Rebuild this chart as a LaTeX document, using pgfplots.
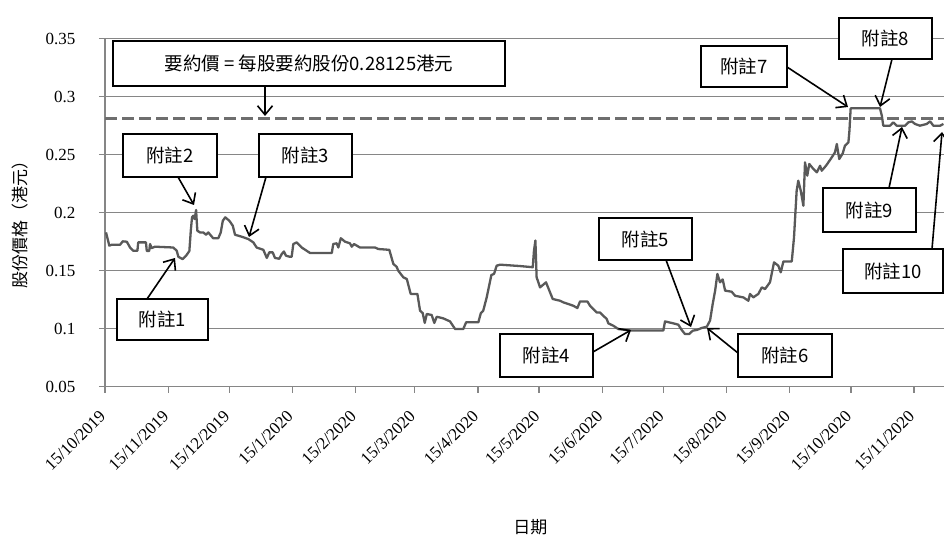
\documentclass[border=0pt]{standalone}
\usepackage{fontspec}
\setmainfont{Liberation Serif}
\newfontfamily\cjk{Noto Sans CJK TC}
\usepackage{pgfplots}
\pgfplotsset{compat=1.18}
\usetikzlibrary{arrows.meta}
\definecolor{priceline}{HTML}{595959}
\definecolor{gridgray}{HTML}{868686}
\definecolor{dashgray}{HTML}{6E6E6E}

\begin{document}
\begin{tikzpicture}
\path[use as bounding box] (0,0) rectangle (944pt,536pt);
\begin{axis}[
    at={(105pt,149.3pt)}, anchor=south west,
    scale only axis, width=839.6pt, height=348pt,
    xmin=0, xmax=412, ymin=0.05, ymax=0.35,
    axis x line*=bottom, axis y line*=left,
    axis line style={gridgray, line width=1.5pt, -},
    tick align=outside, major tick length=6pt,
    tick style={gridgray, line width=1.3pt},
    ymajorgrids, major grid style={gridgray, line width=1.3pt},
    ytick={0.05,0.1,0.15,0.2,0.25,0.3,0.35},
    yticklabels={0.05,0.1,0.15,0.2,0.25,0.3,0.35},
    xtick={0,31,61,92,123,152,183,213,244,274,305,336,366,397},
    xticklabels={15/10/2019,15/11/2019,15/12/2019,15/1/2020,15/2/2020,15/3/2020,15/4/2020,15/5/2020,15/6/2020,15/7/2020,15/8/2020,15/9/2020,15/10/2020,15/11/2020},
    ticklabel style={font=\fontsize{17}{20}\selectfont, text=black},
    xticklabel style={yshift=-18pt, rotate=45, anchor=east},
    yticklabel style={xshift=-20pt},
    xlabel={\cjk 日期},
    ylabel={\cjk 股份價格（港元）},
    label style={font=\cjk\fontsize{17}{20}\selectfont},
    xlabel style={at={(axis description cs:0.5066,-0.405)}, anchor=center},
    ylabel style={at={(axis description cs:-0.1012,0.479)}, anchor=center},
    clip=false,
]
% strike price line
\addplot[dashgray, line width=3pt, dash pattern=on 12pt off 5pt] coordinates {(0,0.28125) (412,0.28125)};
% share price
\addplot[priceline, line width=2.3pt, line join=round] coordinates {
(0.5,0.183) (2.1,0.1716) (3.3,0.1724) (7.4,0.1724) (8.7,0.1753) (10.7,0.175)
(12.3,0.170) (13.9,0.1672) (15.9,0.1672) (16.3,0.1744) (20.1,0.1744) (20.5,0.167)
(21.7,0.167) (22.1,0.173) (22.9,0.1695) (24.5,0.1707) (33.5,0.170) (35.2,0.1672)
(36.0,0.162) (38.1,0.160) (39.8,0.1629) (41.4,0.167) (42.1,0.1845) (42.7,0.196)
(43.3,0.1974) (44.0,0.1945) (44.7,0.2023) (45.3,0.1845) (46.6,0.183) (48.2,0.183)
(49.6,0.181) (50.7,0.183) (52.0,0.1802) (53.1,0.178) (55.6,0.178) (56.8,0.183)
(57.8,0.193) (59.0,0.196) (61.0,0.1931) (62.7,0.1888) (63.8,0.181) (67.1,0.1793)
(70.3,0.1773) (72.8,0.1744) (74.4,0.170) (77.7,0.168) (79.4,0.161) (80.6,0.1658)
(82.3,0.1658) (83.4,0.161) (85.5,0.1603) (86.7,0.1643) (87.8,0.1666) (88.8,0.1629)
(90.8,0.162) (91.6,0.162) (92.4,0.173) (94.1,0.1744) (96.5,0.170) (100.6,0.1653)
(111.3,0.1653) (112.0,0.173) (113.7,0.1736) (114.5,0.170) (115.7,0.178) (117.8,0.175)
(120.2,0.1736) (121.1,0.1707) (122.2,0.173) (125.1,0.170) (132.5,0.170) (134.1,0.1687)
(139.5,0.168) (141.5,0.1558) (143.1,0.1534) (143.9,0.150) (146.4,0.1443) (148.1,0.1428)
(150.0,0.130) (153.3,0.130) (154.6,0.1155) (155.9,0.1135) (156.9,0.105) (157.9,0.1127)
(160.3,0.1118) (161.6,0.105) (162.8,0.1103) (166.0,0.1089) (169.3,0.1063) (171.8,0.0997)
(175.8,0.0997) (177.2,0.1055) (183.2,0.1055) (184.4,0.1133) (185.6,0.1155) (187.3,0.127)
(189.6,0.1463) (190.9,0.1472) (192.2,0.1543) (193.8,0.1552) (203.7,0.154) (209.9,0.153)
(210.5,0.1672) (211.2,0.176) (211.8,0.1443) (213.5,0.1356) (216.4,0.140) (219.7,0.1256)
(223.3,0.1241) (224.9,0.1227) (229.8,0.1198) (231.8,0.1178) (233.1,0.1235) (236.7,0.1235)
(238.0,0.1198) (241.3,0.114) (242.9,0.114) (246.2,0.1083) (247.0,0.1046) (249.4,0.1026)
(251.9,0.0997) (257.6,0.0985) (274.0,0.0985) (274.8,0.1063) (278.9,0.1046) (281.3,0.1035)
(283.0,0.0989) (284.6,0.0954) (286.7,0.0954) (288.4,0.0983) (290.4,0.0989) (292.8,0.1006)
(295.3,0.1017) (296.9,0.107) (298.2,0.1213) (299.4,0.1328) (300.5,0.1472) (301.8,0.140)
(303.1,0.1425) (304.3,0.1328) (307.5,0.1319) (309.2,0.1284) (313.2,0.127) (315.7,0.1241)
(316.5,0.130) (318.1,0.127) (320.6,0.130) (322.3,0.1356) (323.9,0.1342) (326.3,0.140)
(328.3,0.1572) (330.4,0.1543) (331.6,0.1486) (332.9,0.158) (337.0,0.158) (338.1,0.1787)
(339.4,0.219) (340.2,0.2276) (341.4,0.219) (342.7,0.206) (343.5,0.2434) (344.6,0.2319)
(345.6,0.242) (347.6,0.2377) (349.3,0.2348) (350.9,0.2405) (351.7,0.2362) (353.8,0.2405)
(356.1,0.2463) (358.2,0.252) (359.1,0.2592) (360.3,0.2463) (362.0,0.2511) (363.1,0.2578)
(364.8,0.2606) (365.3,0.2707) (365.9,0.29) (380.3,0.29) (381.2,0.2836) (381.9,0.275)
(385.2,0.275) (386.8,0.2779) (388.5,0.275) (392.6,0.275) (394.2,0.2779) (395.9,0.2787)
(397.5,0.2765) (399.9,0.275) (403.2,0.2765) (404.9,0.2787) (406.5,0.275) (409.8,0.275)
(411.4,0.2765)
};
\end{axis}
% call-outs, in pixel units from the top left corner
\begin{scope}[shift={(0pt,536pt)}, x=1pt, y=-1pt,
    box/.style={draw=black, line width=1.3pt, fill=white},
    lbl/.style={font=\cjk\fontsize{18.5}{22}\selectfont},
    arr/.style={black, line width=1.6pt, -{Straight Barb[length=9pt,width=15pt,line width=1.6pt]}}]
\draw[box] (113,41) rectangle (505,86);
\node[lbl] at (309,63.5) {要約價 = 每股要約股份0.28125港元};
\draw[arr] (265,86) -- (265,116);
\draw[box] (117,299) rectangle (208,340); \node[lbl] at (162.5,319.5) {附註1};
\draw[arr] (147,299) -- (175,258);
\draw[box] (123,134) rectangle (217,177); \node[lbl] at (170,155.5) {附註2};
\draw[arr] (178,177) -- (194,205);
\draw[box] (259,134) rectangle (352,177); \node[lbl] at (305.5,155.5) {附註3};
\draw[arr] (266,177) -- (249,237);
\draw[box] (500,334) rectangle (593,377); \node[lbl] at (546.5,355.5) {附註4};
\draw[arr] (593,352) -- (631,330);
\draw[box] (599,218) rectangle (692,260); \node[lbl] at (645.5,239) {附註5};
\draw[arr] (666,260) -- (691,327);
\draw[box] (738,334) rectangle (832,377); \node[lbl] at (785,355.5) {附註6};
\draw[arr] (738,353) -- (707,328);
\draw[box] (701,46) rectangle (787,87); \node[lbl] at (744,66.5) {附註7};
\draw[arr] (787,67) -- (848,107);
\draw[box] (839,18) rectangle (932,59); \node[lbl] at (885.5,38.5) {附註8};
\draw[arr] (892,59) -- (880,107);
\draw[box] (823,188) rectangle (916,232); \node[lbl] at (869.5,210) {附註9};
\draw[arr] (889,188) -- (902,127);
\draw[box] (843,249) rectangle (943,293); \node[lbl] at (893,271) {附註10};
\draw[arr] (932,249) -- (942,132);
\end{scope}
\end{tikzpicture}
\end{document}
